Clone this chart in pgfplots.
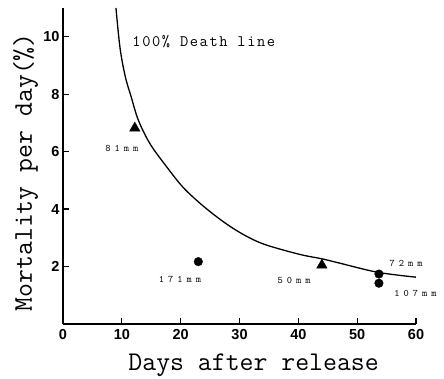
\documentclass[border=0pt]{standalone}
\usepackage{fontspec}
\setmainfont{Liberation Sans}
\setmonofont{Latin Modern Mono}
\usepackage{pgfplots}
\pgfplotsset{compat=1.18}
\begin{document}
\begin{tikzpicture}
\begin{axis}[
  scale only axis,
  width=353pt, height=316pt,
  xmin=0, xmax=60, ymin=0, ymax=11,
  axis x line=bottom, axis y line=left,
  axis line style={-, line width=1.3pt},
  tick align=inside,
  major tick length=6pt,
  tick style={line width=1.2pt, black},
  xtick={0,10,...,60}, ytick={2,4,...,10},
  /pgf/number format/assume math mode=true,
  tick label style={font=\fontsize{14.5}{14.5}\selectfont\bfseries},
  xticklabel style={yshift=-2pt},
  xlabel={Days after release},
  ylabel={Mortality per day(\%)},
  xlabel style={at={(rel axis cs:0.54,0)}, anchor=base, yshift=-46pt, font=\ttfamily\fontsize{27}{27}\selectfont},
  ylabel style={at={(rel axis cs:0,0.48)}, anchor=base, yshift=31pt, font=\ttfamily\fontsize{27}{27}\selectfont},
  clip=false,
]
\addplot[black, line width=1.3pt, smooth, tension=0.55] coordinates {
(9.0,11.0) (9.7,9.6) (10.6,8.6) (11.6,7.9) (12.8,7.1) (14.8,6.27) (17.7,5.45) (20.4,4.76)
(23.3,4.2) (26.2,3.72) (28.9,3.33) (31.8,2.99) (34.7,2.74) (40.3,2.42) (44,2.27)
(47,2.12) (53.5,1.8) (60,1.63)};
\addplot[only marks, mark=triangle*, mark size=6pt, black] coordinates {(12.2,6.82) (44.0,2.05)};
\addplot[only marks, mark=*, mark size=4.3pt, black] coordinates {(23.0,2.17) (53.7,1.74) (53.7,1.42)};
\node[font=\ttfamily\fontsize{16}{16}\selectfont\addfontfeature{LetterSpace=10}, anchor=west] at (axis cs:11.2,9.84) {100\% Death line};
\node[font=\ttfamily\fontsize{10}{10}\selectfont\addfontfeature{LetterSpace=40}] at (axis cs:10.0,6.1) {81mm};
\node[font=\ttfamily\fontsize{10}{10}\selectfont\addfontfeature{LetterSpace=40}] at (axis cs:19.9,1.56) {171mm};
\node[font=\ttfamily\fontsize{10}{10}\selectfont\addfontfeature{LetterSpace=40}] at (axis cs:39.3,1.50) {50mm};
\node[font=\ttfamily\fontsize{10}{10}\selectfont\addfontfeature{LetterSpace=40}] at (axis cs:58.3,2.12) {72mm};
\node[font=\ttfamily\fontsize{10}{10}\selectfont\addfontfeature{LetterSpace=40}] at (axis cs:59.9,1.08) {107mm};
\end{axis}
\pgfresetboundingbox
\path[use as bounding box] (-63pt,-54pt) rectangle (381pt,324pt);
\end{tikzpicture}
\end{document}
